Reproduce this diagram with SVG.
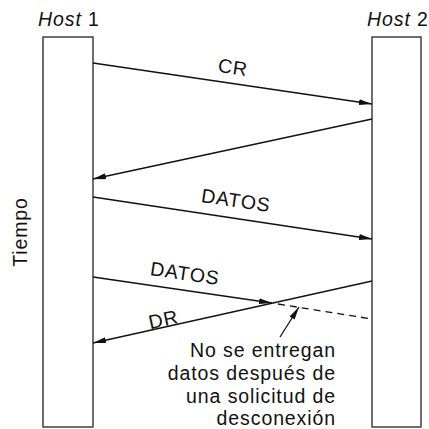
<svg xmlns="http://www.w3.org/2000/svg" width="429" height="429" viewBox="0 0 429 429">
<defs>
<style>
text{font-family:"Liberation Sans",Arial,sans-serif;fill:#111;font-size:19.5px;letter-spacing:0.9px}
.host{fill:#fff;stroke:#222;stroke-width:1.3}
.msg{stroke:#111;stroke-width:1.3;fill:none}
</style>
<marker id="ah" viewBox="0 0 13 6" refX="13" refY="3" markerWidth="13" markerHeight="6" markerUnits="userSpaceOnUse" orient="auto">
<path d="M0,0 L13,3 L0,6 Z" fill="#111"/>
</marker>
</defs>
<rect width="429" height="429" fill="#fff"/>
<g id="host1">
<rect class="host" x="43" y="37" width="50" height="390"/>
<text x="38" y="26"><tspan font-style="italic">Host</tspan> 1</text>
</g>
<g id="host2">
<rect class="host" x="372" y="37" width="49" height="390"/>
<text x="367" y="26"><tspan font-style="italic">Host</tspan> 2</text>
</g>
<text id="tiempo" transform="translate(27,232) rotate(-90)" text-anchor="middle">Tiempo</text>
<g id="connectors">
<line class="msg" x1="93" y1="63" x2="372" y2="104" marker-end="url(#ah)"/>
<line class="msg" x1="372" y1="119" x2="93" y2="179" marker-end="url(#ah)"/>
<line class="msg" x1="93" y1="197" x2="372" y2="239" marker-end="url(#ah)"/>
<line class="msg" x1="93" y1="277" x2="272" y2="303" marker-end="url(#ah)"/>
<line class="msg" x1="278" y1="304" x2="372" y2="319" stroke-dasharray="7,5"/>
<line class="msg" x1="372" y1="281" x2="93" y2="343" marker-end="url(#ah)"/>
<line class="msg" x1="280" y1="337" x2="299" y2="307" marker-end="url(#ah)"/>
</g>
<text transform="translate(232,74) rotate(8.4)" text-anchor="middle">CR</text>
<text transform="translate(235,207) rotate(8.4)" text-anchor="middle">DATOS</text>
<text transform="translate(184,280) rotate(8.4)" text-anchor="middle">DATOS</text>
<text transform="translate(165,326) rotate(-12.5)" text-anchor="middle">DR</text>
<g id="note" text-anchor="end">
<text x="336" y="357">No se entregan</text>
<text x="336" y="380">datos después de</text>
<text x="336" y="403">una solicitud de</text>
<text x="336" y="425">desconexión</text>
</g>
</svg>
